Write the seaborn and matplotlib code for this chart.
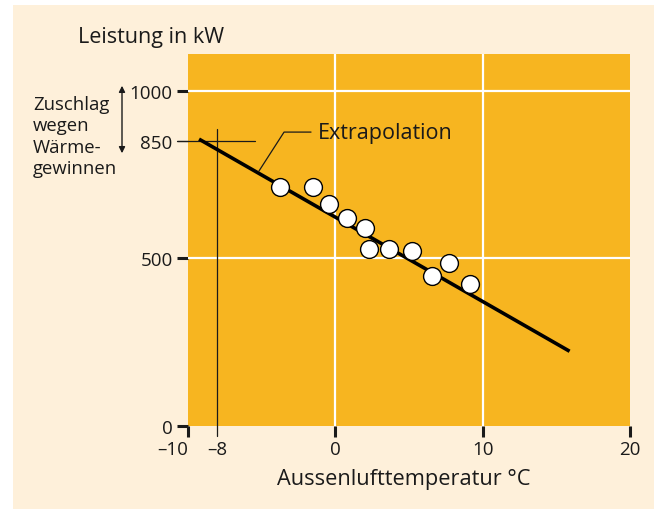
import matplotlib
matplotlib.use("Agg")
import matplotlib.pyplot as plt
import seaborn as sns
import pandas as pd
from matplotlib.patches import Rectangle, FancyArrowPatch

# ---- data ----
temp = [-3.75, -1.5, -0.43, 0.77, 2.0, 2.31, 3.67, 5.2, 6.54, 7.74, 9.14]
power = [714, 714, 662, 620, 591, 528, 528, 522, 449, 486, 424]
fit_x = [-9.25, 15.9]
fit_y = [856, 223]
xticks = [-10, -8, 0, 10, 20]
xtick_labels = ["\u201310", "\u20138", "0", "10", "20"]
yticks = [0, 500, 850, 1000]
ytick_labels = ["0", "500", "850", "1000"]
grid_x = [0, 10]
grid_y = [500, 1000]
design_temp = -8
design_power = 850
leader_x = [-5.18, -3.48, -1.65]
leader_y = [761, 877, 877]
label_pos = (-1.2, 877)

CREAM = "#FEF0DA"
ORANGE = "#F7B520"
INK = "#1a1a1a"

sns.set_theme(style="white")
plt.rcParams['font.family'] = ['Open Sans', 'DejaVu Sans']

fig = plt.figure(figsize=(6.54, 5.10), dpi=100)
fig.patch.set_facecolor("white")
fig.patches.append(Rectangle((13/654, 0.0), 1 - 13/654, 1 - 6/510,
                             transform=fig.transFigure, facecolor=CREAM,
                             edgecolor="none", zorder=-10))

ax = fig.add_axes([188/654, (510-427)/510, (630-188)/654, (427-55)/510])
ax.set_facecolor(ORANGE)
for s in ax.spines.values():
    s.set_visible(False)

ax.set_xlim(-10, 20)
ax.set_ylim(0, 1110)

for gx in grid_x:
    ax.axvline(gx, color="white", lw=1.6, zorder=1)
for gy in grid_y:
    ax.axhline(gy, color="white", lw=1.6, zorder=1)

# design point cross lines
ax.plot([design_temp, design_temp], [-30, 886], color=INK, lw=0.9,
        clip_on=False, zorder=2)
ax.plot([-10.75, -5.45], [design_power, design_power], color=INK, lw=0.9,
        clip_on=False, zorder=2)

fit_df = pd.DataFrame({"t": fit_x, "p": fit_y})
sns.lineplot(data=fit_df, x="t", y="p", color="black", lw=2.6, ax=ax,
             zorder=3, solid_capstyle="butt")

df = pd.DataFrame({"t": temp, "p": power})
sns.scatterplot(data=df, x="t", y="p", s=165, color="white",
                edgecolor="black", linewidth=1.0, ax=ax, zorder=4)

ax.plot(leader_x, leader_y, color=INK, lw=0.9, zorder=3)
ax.text(label_pos[0], label_pos[1], "Extrapolation", fontsize=15.5,
        ha="left", va="center", color=INK)

ax.set_xticks(xticks, labels=xtick_labels)
ax.set_yticks(yticks, labels=ytick_labels)
ax.tick_params(axis="both", which="major", labelsize=13.5, colors=INK,
               length=8, width=2.2, direction="out", pad=2,
               left=True, bottom=True)
ax.tick_params(axis="y", pad=3)
yt = ax.yaxis.get_major_ticks()
yt[2].tick1line.set_markeredgewidth(0.9)
xt = ax.xaxis.get_major_ticks()
xt[1].tick1line.set_visible(False)
for lab in ax.get_xticklabels() + ax.get_yticklabels():
    lab.set_color(INK)
ax.get_xticklabels()[0].set_horizontalalignment("right")
ax.set_xlabel("")
ax.set_ylabel("")

fig.text(78/654, 1 - 37/510, "Leistung in kW", fontsize=15.5,
         ha="left", va="center", color=INK)
fig.text(404/654, 1 - 480/510, "Aussenlufttemperatur \u00b0C", fontsize=15.7,
         ha="center", va="center", color=INK)
fig.text(33/654, 1 - 137/510, "Zuschlag\nwegen\nW\u00e4rme-\ngewinnen",
         fontsize=13.3, ha="left", va="center", linespacing=1.22,
         color=INK)
arrow = FancyArrowPatch(
    (122/654, 1 - 84/510), (122/654, 1 - 157/510),
    transform=fig.transFigure, arrowstyle="<|-|>", mutation_scale=9,
    color=INK, lw=1.0)
fig.patches.append(arrow)

fig.savefig("out.png", dpi=100, facecolor=fig.get_facecolor())
